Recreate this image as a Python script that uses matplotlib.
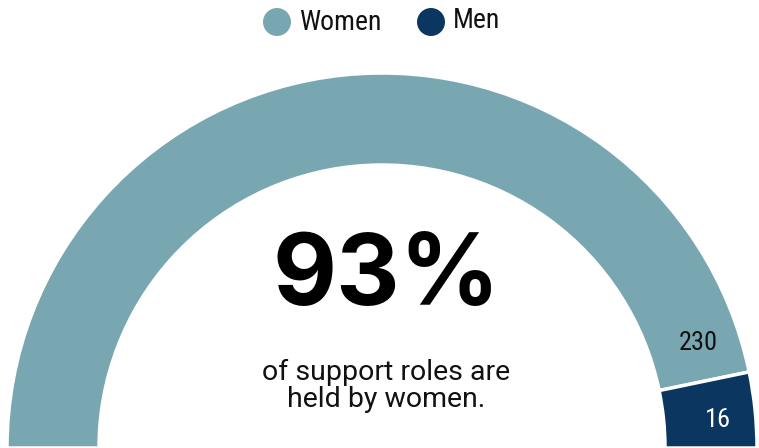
import numpy as np
import matplotlib
matplotlib.use("Agg")
import matplotlib.pyplot as plt

# Data
categories = ["Women", "Men"]
counts = [230, 16]
colors = ["#79a7b1", "#0a3660"]
headline = "93%"
caption = "of support roles are\nheld by women."

cond = ["Roboto Condensed", "Liberation Sans Narrow", "Roboto"]

W, H = 759, 448
fig = plt.figure(figsize=(W / 100, H / 100), dpi=100)
ax = fig.add_axes([0, 0, 1, 1])

cx, cy = 382.0, 0.0
r_out, r_in = 375.0, 283.0

total = sum(counts)
# upper half shows the data, lower (hidden) half balances the pie
wedges, _ = ax.pie(
    counts + [total],
    colors=colors + ["none"],
    startangle=180,
    counterclock=False,
    radius=r_out,
    center=(cx, cy),
    wedgeprops=dict(width=r_out - r_in, edgecolor="white", linewidth=2.5),
)
wedges[-1].set_edgecolor("none")

ax.set_xlim(0, W)
ax.set_ylim(0, H)
ax.set_aspect("equal")
ax.axis("off")

# value labels inside the ring
men_ang = 180 * counts[1] / total
a16 = np.deg2rad(men_ang / 2 - 1.1)
ax.text(cx + 337 * np.cos(a16), cy + 337 * np.sin(a16), str(counts[1]),
        ha="center", va="center", color="white", fontsize=19, family=cond)
a230 = np.deg2rad(men_ang + 6.7)
ax.text(cx + 333 * np.cos(a230), cy + 333 * np.sin(a230), str(counts[0]),
        ha="center", va="center", color="#111111", fontsize=19, family=cond)

# centre text
ax.text(386, H - 305, headline, ha="center", va="baseline", fontsize=71,
        fontweight="bold", family="Inter", color="black")
ax.text(386, H - 386, caption, ha="center", va="center", fontsize=20.5,
        family="Roboto", color="#111111", linespacing=1.0)

# legend
leg_y = H - 22
for (x_dot, label, dy) in [(277, categories[0], 0), (431, categories[1], 2)]:
    col = colors[categories.index(label)]
    ax.add_patch(plt.Circle((x_dot, leg_y), 14, color=col, lw=0))
    ax.text(x_dot + 22, leg_y + dy, label, ha="left", va="center",
            fontsize=20, family=cond, color="#111111")

fig.savefig("out.png", dpi=100)
